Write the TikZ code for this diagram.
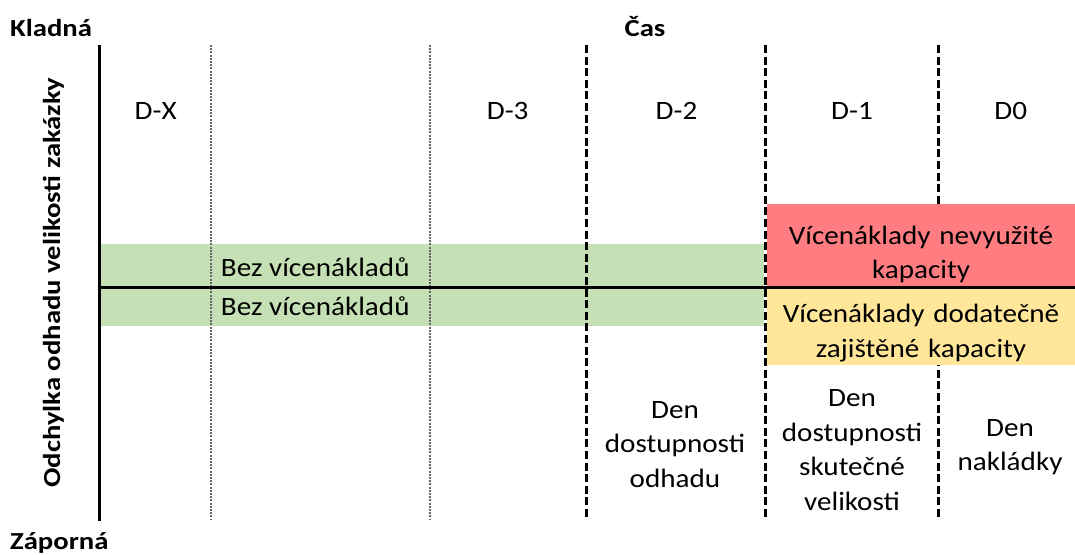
\documentclass[tikz,border=0pt]{standalone}
\usepackage{fontspec}
\setmainfont{Carlito}[FakeStretch=1.1]
\newfontfamily\labfont{Carlito}[FakeStretch=1.17]
\definecolor{bandgreen}{HTML}{C5E0B4}
\definecolor{boxred}{HTML}{FF7C80}
\definecolor{boxyellow}{HTML}{FFE699}
\definecolor{dotgray}{HTML}{666666}
\tikzset{
  axisline/.style={line width=3pt, black},
  dotline/.style={line width=1.6pt, dotgray, dash pattern=on 2pt off 1.2pt},
  dashline/.style={line width=2.6pt, black, dash pattern=on 8pt off 3.6pt},
  txt/.style={inner sep=0pt, font=\fontsize{26.5}{34.5}\selectfont},
  mtxt/.style={txt, text width=300pt, align=center, anchor=base},
  lab/.style={inner sep=0pt, font=\labfont\bfseries\fontsize{24.5}{30}\selectfont},
}
\begin{document}
\begin{tikzpicture}[x=1pt,y=-1pt]
\useasboundingbox (0,0) rectangle (1075,554);
% green band
\fill[bandgreen] (99,244) rectangle (764,326);
% coordinates for vertical lines
\foreach \n/\x in {a/210.7, b/430, c/586.5, d/765.7, e/938.3} {
  \coordinate (\n top) at (\x,45);
  \coordinate (\n bot) at (\x,520);
}
\draw[dotline] (atop) -- (abot);
\draw[dotline] (btop) -- (bbot);
\draw[dashline] (ctop) -- (cbot);
\draw[dashline] (dtop) -- (dbot);
\draw[dashline] (etop) -- (ebot);
% boxes
\fill[boxred] (767,204) rectangle (1075,287);
\fill[boxyellow] (767,287) rectangle (1075,365);
% axes
\coordinate (ytop) at (99,45);
\coordinate (ybot) at (99,521);
\coordinate (xleft) at (99,287);
\coordinate (xright) at (1075,287);
\draw[axisline] (ytop) -- (ybot);
\draw[axisline] (xleft) -- (xright);
% axis labels
\node[lab, anchor=base west] (kladna) at (10,36) {Kladná};
\node[lab, anchor=base west] (zaporna) at (10,549) {Záporná};
\node[lab, anchor=base] (cas) at (645,36) {Čas};
\node[lab, anchor=base, rotate=90] (odch) at (60,282.5) {Odchylka odhadu velikosti zakázky};
% day labels
\node[txt, anchor=base] (dx) at (155.7,119) {D-X};
\node[txt, anchor=base] (d3) at (507.7,119) {D-3};
\node[txt, anchor=base] (d2) at (676.5,119) {D-2};
\node[txt, anchor=base] (d1) at (852,119) {D-1};
\node[txt, anchor=base] (d0) at (1010.7,119) {D0};
% green texts
\node[txt, anchor=base west] (bez1) at (220.7,276.7) {Bez vícenákladů};
\node[txt, anchor=base west] (bez2) at (220.7,315.7) {Bez vícenákladů};
% box texts
\node[mtxt] (red) at (921,244) {Vícenáklady nevyužité\\kapacity};
\node[mtxt] (yel) at (921,322.7) {Vícenáklady dodatečně\\zajištěné kapacity};
% bottom texts
\node[mtxt] (odh) at (675,418) {Den\\dostupnosti\\odhadu};
\node[mtxt] (sku) at (852,406.7) {Den\\dostupnosti\\skutečné\\velikosti};
\node[mtxt] (nak) at (1010,436) {Den\\nakládky};
\end{tikzpicture}
\end{document}
